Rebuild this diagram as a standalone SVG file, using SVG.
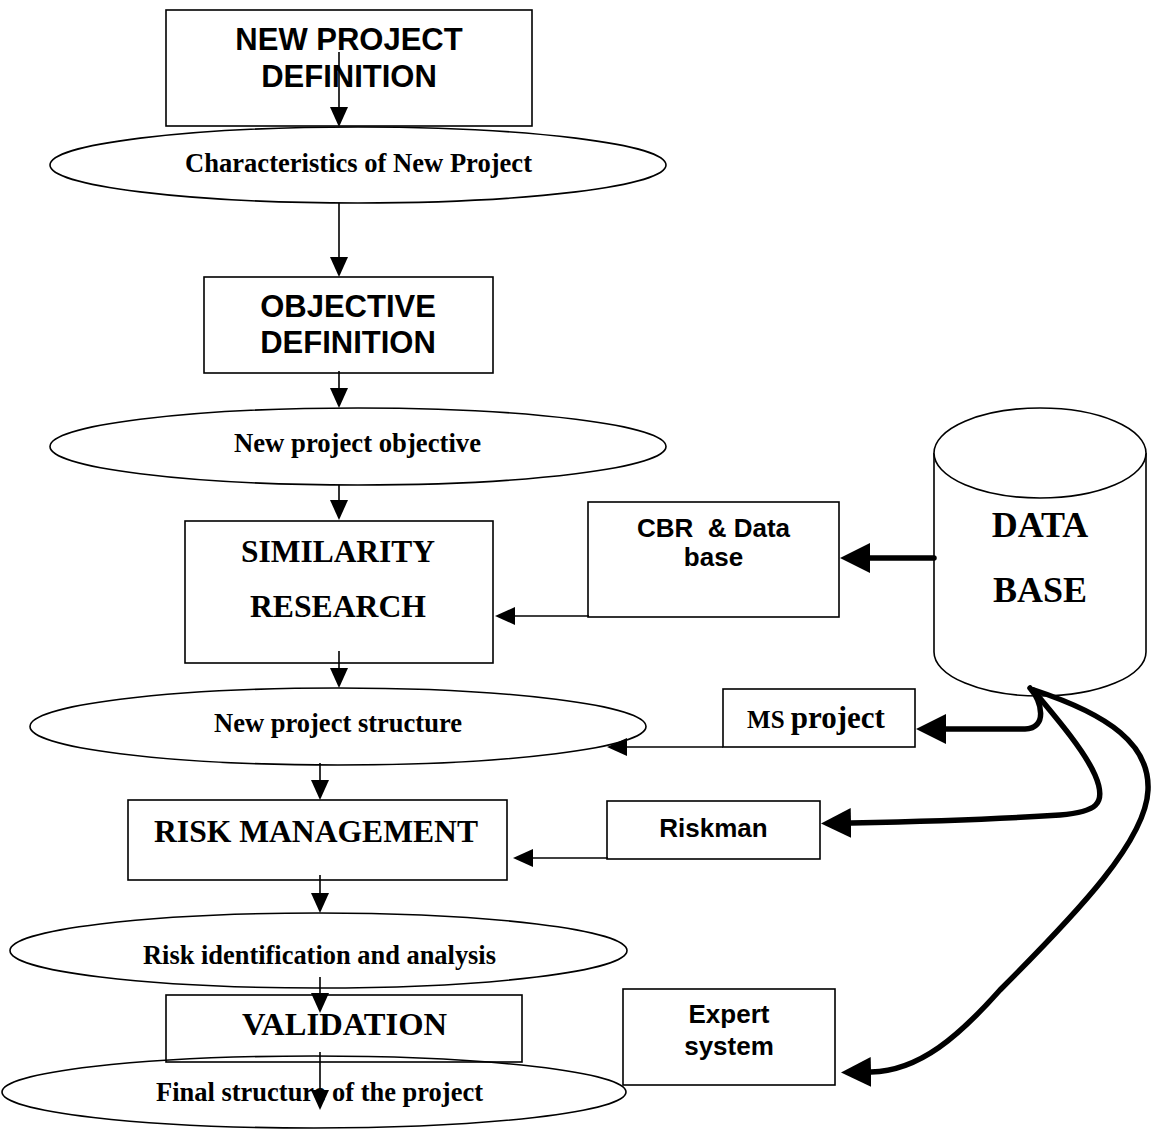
<svg xmlns="http://www.w3.org/2000/svg" width="1154" height="1133" viewBox="0 0 1154 1133">
<style>
.shape{fill:none;stroke:#000;stroke-width:1.6}
.thin{fill:none;stroke:#000;stroke-width:1.6}
.thick{fill:none;stroke:#000;stroke-width:5.5;stroke-linecap:round}
.sans{font-family:"Liberation Sans",Arial,sans-serif;font-weight:bold;fill:#000;text-anchor:middle}
.serif{font-family:"Liberation Serif","Times New Roman",serif;font-weight:bold;fill:#000;text-anchor:middle}
</style>
<defs>
<marker id="ah" markerUnits="userSpaceOnUse" markerWidth="20" markerHeight="18" refX="0" refY="9" orient="auto"><path d="M0,0 L20,9 L0,18 z" fill="#000"/></marker>
<marker id="ahb" markerUnits="userSpaceOnUse" markerWidth="30" markerHeight="30" refX="0" refY="15" orient="auto"><path d="M0,0 L30,15 L0,30 z" fill="#000"/></marker>
</defs>
<rect width="1154" height="1133" fill="#fff"/>

<g id="new-project-definition">
<rect class="shape" x="166" y="10" width="366" height="116"/>
<text class="sans" x="349" y="50" font-size="31">NEW PROJECT</text>
<text class="sans" x="349" y="87" font-size="31">DEFINITION</text>
</g>
<g id="characteristics">
<ellipse class="shape" cx="358" cy="165" rx="308" ry="38"/>
<text class="serif" x="358.5" y="172" font-size="27.5" textLength="347" lengthAdjust="spacingAndGlyphs">Characteristics of New Project</text>
</g>
<g id="objective-definition">
<rect class="shape" x="204" y="277" width="289" height="96"/>
<text class="sans" x="348" y="317" font-size="31">OBJECTIVE</text>
<text class="sans" x="348" y="353" font-size="31">DEFINITION</text>
</g>
<g id="new-project-objective">
<ellipse class="shape" cx="358" cy="446.5" rx="308" ry="38.5"/>
<text class="serif" x="357.5" y="452" font-size="27" textLength="247" lengthAdjust="spacingAndGlyphs">New project objective</text>
</g>
<g id="similarity-research">
<rect class="shape" x="185" y="521" width="308" height="142"/>
<text class="serif" x="338" y="562" font-size="32.5" textLength="194" lengthAdjust="spacingAndGlyphs">SIMILARITY</text>
<text class="serif" x="338" y="617" font-size="32.5" textLength="176" lengthAdjust="spacingAndGlyphs">RESEARCH</text>
</g>
<g id="new-project-structure">
<ellipse class="shape" cx="338" cy="726.5" rx="308" ry="38.5"/>
<text class="serif" x="338" y="732" font-size="27" textLength="248" lengthAdjust="spacingAndGlyphs">New project structure</text>
</g>
<g id="risk-management">
<rect class="shape" x="128" y="800" width="379" height="80"/>
<text class="serif" x="316" y="842" font-size="32.5" textLength="324" lengthAdjust="spacingAndGlyphs">RISK MANAGEMENT</text>
</g>
<g id="risk-identification">
<ellipse class="shape" cx="318.5" cy="950.5" rx="308.5" ry="37.5"/>
<text class="serif" x="319.5" y="964" font-size="27" textLength="353" lengthAdjust="spacingAndGlyphs">Risk identification and analysis</text>
</g>
<g id="validation">
<rect class="shape" x="166" y="995" width="356" height="67"/>
<text class="serif" x="344.5" y="1035" font-size="32.5" textLength="205" lengthAdjust="spacingAndGlyphs">VALIDATION</text>
</g>
<g id="final-structure">
<ellipse class="shape" cx="314" cy="1092" rx="312" ry="36"/>
<text class="serif" x="319.5" y="1101" font-size="27" textLength="327" lengthAdjust="spacingAndGlyphs">Final structure of the project</text>
</g>

<g id="data-base">
<path d="M934,453 L934,652 A106,44 0 0 0 1146,652 L1146,453" fill="#fff" stroke="#000" stroke-width="1.6"/>
<ellipse cx="1040" cy="453" rx="106" ry="45" fill="#fff" stroke="#000" stroke-width="1.6"/>
<text class="serif" x="1040" y="537" font-size="36">DATA</text>
<text class="serif" x="1040" y="602" font-size="36">BASE</text>
</g>
<g id="cbr-database">
<rect class="shape" x="588" y="502" width="251" height="115"/>
<text class="sans" x="713.5" y="537" font-size="26" xml:space="preserve">CBR  &amp; Data</text>
<text class="sans" x="713.5" y="566" font-size="26">base</text>
</g>
<g id="ms-project">
<rect class="shape" x="723" y="689" width="192" height="58"/>
<text class="serif" x="816" y="728" font-size="25"><tspan>MS </tspan><tspan font-size="31">project</tspan></text>
</g>
<g id="riskman">
<rect class="shape" x="607" y="801" width="213" height="58"/>
<text class="sans" x="713.5" y="837" font-size="26">Riskman</text>
</g>
<g id="expert-system">
<rect class="shape" x="623" y="989" width="212" height="96"/>
<text class="sans" x="729" y="1023" font-size="26">Expert</text>
<text class="sans" x="729" y="1055" font-size="26">system</text>
</g>

<g id="connectors">
<path class="thin" d="M339,52 L339,107" marker-end="url(#ah)"/>
<path class="thin" d="M339,203 L339,257" marker-end="url(#ah)"/>
<path class="thin" d="M339,371 L339,388" marker-end="url(#ah)"/>
<path class="thin" d="M339,485 L339,500" marker-end="url(#ah)"/>
<path class="thin" d="M339,651 L339,668" marker-end="url(#ah)"/>
<path class="thin" d="M320,763 L320,780" marker-end="url(#ah)"/>
<path class="thin" d="M320,875 L320,893" marker-end="url(#ah)"/>
<path class="thin" d="M320,977 L320,993" marker-end="url(#ah)"/>
<path class="thin" d="M320,1052 L320,1090" marker-end="url(#ah)"/>
<path class="thin" d="M589,616 L515,616" marker-end="url(#ah)"/>
<path class="thin" d="M723,747 L627,747" marker-end="url(#ah)"/>
<path class="thin" d="M608,858 L533,858" marker-end="url(#ah)"/>
<path class="thick" d="M934,558 L870,558" marker-end="url(#ahb)"/>
<path class="thick" d="M1030,688 C1042,702 1048,728 1025,729 L946,729" marker-end="url(#ahb)"/>
<path class="thick" d="M1033,690 C1060,722 1085,752 1095,775 C1108,805 1095,812 1060,815 C1000,819 900,822 851,823" marker-end="url(#ahb)"/>
<path class="thick" d="M1034,690 C1110,715 1150,745 1148,790 C1146,840 1080,910 1000,990 C960,1035 920,1071 871,1072" marker-end="url(#ahb)"/>
</g>
</svg>
